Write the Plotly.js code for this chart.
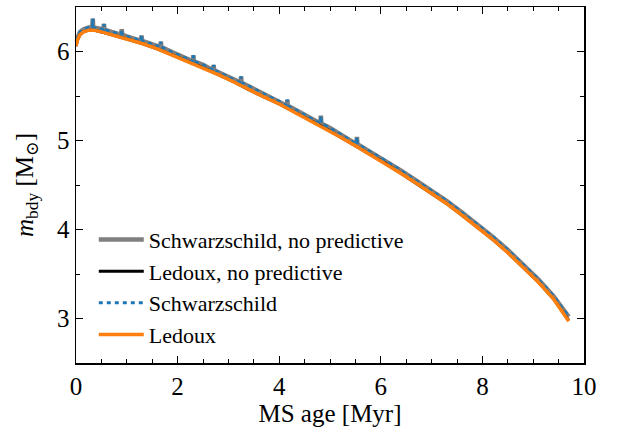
<!DOCTYPE html>
<html>
<head>
<meta charset="utf-8">
<script src="https://cdn.plot.ly/plotly-3.0.1.min.js"></script>
<style>html,body{margin:0;padding:0;background:#fff;}#chart{width:618px;height:434px;}</style>
</head>
<body>
<div id="chart"></div>
<script>
// Schwarzschild, no predictive (grey) — includes spikes
const schwNoPredX = [0, 0.03, 0.08, 0.15, 0.25, 0.32, 0.33, 0.34, 0.45, 0.54, 0.55, 0.56, 0.7, 0.89, 0.9, 0.91, 1.0, 1.28, 1.29, 1.3, 1.45, 1.66, 1.67, 1.68, 1.9, 2.2, 2.30, 2.31, 2.32, 2.5, 2.70, 2.71, 2.72, 2.9, 3.1, 3.24, 3.25, 3.26, 3.4, 3.7, 4.0, 4.15, 4.16, 4.17, 4.3, 4.6, 4.81, 4.82, 4.83, 5.0, 5.2, 5.52, 5.53, 5.54, 5.8, 6.1, 6.4, 6.7, 7.0, 7.3, 7.6, 7.9, 8.2, 8.5, 8.8, 9.1, 9.4, 9.7];
const schwNoPredY = [6.12, 6.17, 6.22, 6.25, 6.27, 6.27, 6.37, 6.27, 6.26, 6.245, 6.31, 6.245, 6.22, 6.19, 6.25, 6.19, 6.17, 6.12, 6.18, 6.12, 6.09, 6.05, 6.11, 6.05, 5.99, 5.92, 5.89, 5.96, 5.89, 5.85, 5.79, 5.85, 5.79, 5.74, 5.69, 5.65, 5.72, 5.65, 5.61, 5.52, 5.44, 5.39, 5.46, 5.39, 5.35, 5.26, 5.19, 5.28, 5.19, 5.14, 5.07, 4.96, 5.04, 4.96, 4.87, 4.77, 4.66, 4.55, 4.44, 4.32, 4.19, 4.06, 3.92, 3.77, 3.61, 3.44, 3.25, 3.02];

// Ledoux, no predictive (black)
const ledNoPredX = [0, 0.03, 0.08, 0.15, 0.25, 0.35, 0.5, 0.7, 1.0, 1.3, 1.6, 1.9, 2.2, 2.5, 2.8, 3.1, 3.4, 3.7, 4.0, 4.3, 4.6, 4.9, 5.2, 5.5, 5.8, 6.1, 6.4, 6.7, 7.0, 7.3, 7.6, 7.9, 8.2, 8.5, 8.8, 9.1, 9.4, 9.7];
const ledNoPredY = [6.06, 6.13, 6.19, 6.22, 6.24, 6.24, 6.22, 6.19, 6.14, 6.09, 6.03, 5.96, 5.89, 5.82, 5.74, 5.66, 5.57, 5.49, 5.41, 5.32, 5.23, 5.14, 5.04, 4.94, 4.84, 4.74, 4.63, 4.52, 4.41, 4.29, 4.16, 4.03, 3.89, 3.74, 3.58, 3.41, 3.22, 2.98];

// Schwarzschild (blue dotted) — includes spikes
const schwX = [0, 0.03, 0.08, 0.15, 0.25, 0.32, 0.33, 0.34, 0.45, 0.54, 0.55, 0.56, 0.7, 0.89, 0.9, 0.91, 1.0, 1.28, 1.29, 1.3, 1.45, 1.66, 1.67, 1.68, 1.9, 2.2, 2.30, 2.31, 2.32, 2.5, 2.70, 2.71, 2.72, 2.9, 3.1, 3.24, 3.25, 3.26, 3.4, 3.7, 4.0, 4.15, 4.16, 4.17, 4.3, 4.6, 4.81, 4.82, 4.83, 5.0, 5.2, 5.52, 5.53, 5.54, 5.8, 6.1, 6.4, 6.7, 7.0, 7.3, 7.6, 7.9, 8.2, 8.5, 8.8, 9.1, 9.4, 9.7];
const schwY = [6.12, 6.17, 6.22, 6.25, 6.27, 6.27, 6.37, 6.27, 6.26, 6.245, 6.31, 6.245, 6.22, 6.19, 6.25, 6.19, 6.17, 6.12, 6.18, 6.12, 6.09, 6.05, 6.11, 6.05, 5.99, 5.92, 5.89, 5.96, 5.89, 5.85, 5.79, 5.85, 5.79, 5.74, 5.69, 5.65, 5.72, 5.65, 5.61, 5.52, 5.44, 5.39, 5.46, 5.39, 5.35, 5.26, 5.19, 5.28, 5.19, 5.14, 5.07, 4.96, 5.04, 4.96, 4.87, 4.77, 4.66, 4.55, 4.44, 4.32, 4.19, 4.06, 3.92, 3.77, 3.61, 3.44, 3.25, 3.02];

// Ledoux (orange)
const ledX = [0, 0.03, 0.08, 0.15, 0.25, 0.35, 0.5, 0.7, 1.0, 1.3, 1.6, 1.9, 2.2, 2.5, 2.8, 3.1, 3.4, 3.7, 4.0, 4.3, 4.6, 4.9, 5.2, 5.5, 5.8, 6.1, 6.4, 6.7, 7.0, 7.3, 7.6, 7.9, 8.2, 8.5, 8.8, 9.1, 9.4, 9.7];
const ledY = [6.06, 6.13, 6.19, 6.22, 6.24, 6.24, 6.22, 6.19, 6.14, 6.09, 6.03, 5.96, 5.89, 5.82, 5.74, 5.66, 5.57, 5.49, 5.41, 5.32, 5.23, 5.14, 5.04, 4.94, 4.84, 4.74, 4.63, 4.52, 4.41, 4.29, 4.16, 4.03, 3.89, 3.74, 3.58, 3.41, 3.22, 2.97];

const seriesNames = ["Schwarzschild, no predictive", "Ledoux, no predictive", "Schwarzschild", "Ledoux"];
const xTickVals = [0, 2, 4, 6, 8, 10];
const yTickVals = [3, 4, 5, 6];

const FONT = "Liberation Serif, DejaVu Serif, serif";

const traces = [
  {x: schwNoPredX, y: schwNoPredY, name: seriesNames[0], mode: "lines", line: {color: "#7f7f7f", width: 4.5}},
  {x: ledNoPredX, y: ledNoPredY, name: seriesNames[1], mode: "lines", line: {color: "#000000", width: 3}},
  {x: schwX, y: schwY, name: seriesNames[2], mode: "lines", line: {color: "#1f77b4", width: 3, dash: "4px,4px"}},
  {x: ledX, y: ledY, name: seriesNames[3], mode: "lines", line: {color: "#ff7f0e", width: 3.5}}
];

const axisCommon = {
  showgrid: false, zeroline: false, showline: true, linecolor: "#000", linewidth: 1.5,
  mirror: "allticks", ticks: "inside", ticklen: 7, tickwidth: 1.2, tickcolor: "#000",
  tickfont: {family: FONT, size: 25, color: "#000"},
  minor: {ticks: "inside", ticklen: 4, tickwidth: 1, tickcolor: "#000", dtick: 0.5}
};

const layout = {
  width: 618, height: 434,
  margin: {l: 76, r: 34, t: 7, b: 71},
  paper_bgcolor: "#fff", plot_bgcolor: "#fff",
  showlegend: true,
  legend: {x: 0.035, y: 0.405, xanchor: "left", yanchor: "top", bgcolor: "rgba(0,0,0,0)",
           itemwidth: 45,
           font: {family: FONT, size: 22, color: "#000"}, tracegroupgap: 0},
  xaxis: Object.assign({}, axisCommon, {
    range: [0, 10], tickvals: xTickVals, ticktext: xTickVals.map(String),
    title: {text: "MS age [Myr]", font: {family: FONT, size: 25, color: "#000"}, standoff: 4}
  }),
  yaxis: Object.assign({}, axisCommon, {
    range: [2.5, 6.5], tickvals: yTickVals, ticktext: yTickVals.map(String),
    title: {text: "<i>m</i><sub>bdy</sub> [M<sub>⊙</sub>]", font: {family: FONT, size: 25, color: "#000"}, standoff: 16}
  }),
  font: {family: FONT, color: "#000"}
};

Plotly.newPlot("chart", traces, layout, {displayModeBar: false, staticPlot: true});
</script>
</body>
</html>
